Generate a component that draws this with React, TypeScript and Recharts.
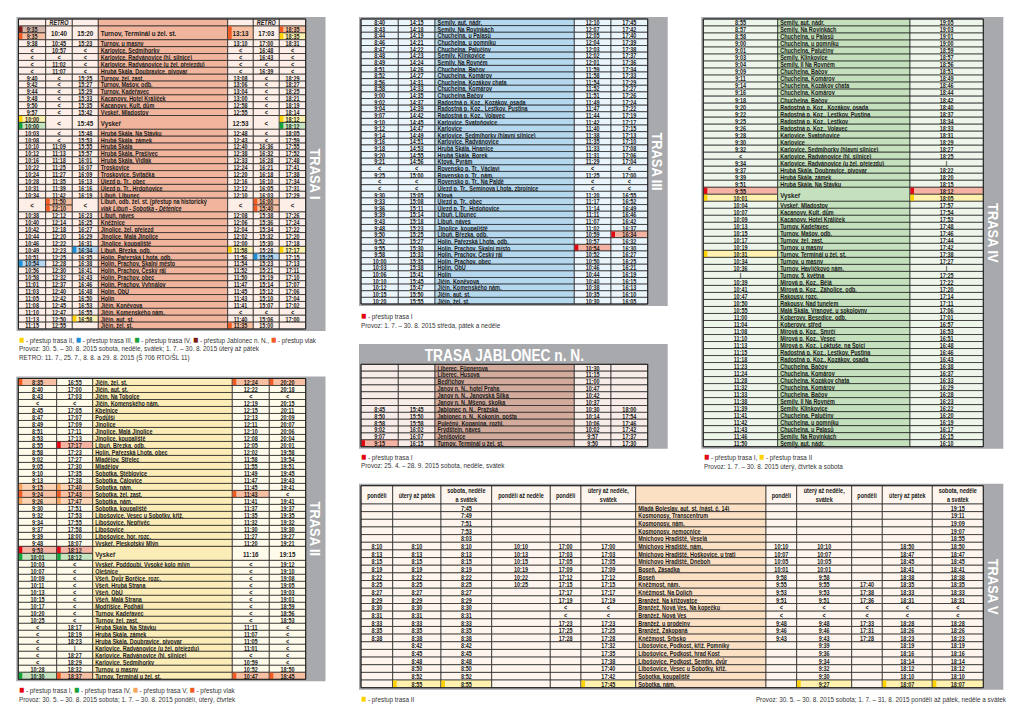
import React from 'react';
import { Surface, Layer, Rectangle, Text } from 'recharts';

const FONT = "'Liberation Sans', Arial, sans-serif";

// transfer markers: 1-5 = trasa I..V, J = Jablonec n. N., V = vlak
const markColors: Record<string, string> = {
  '1': '#e30613', '2': '#ffd200', '3': '#1b8ed6', '4': '#17a23b', '5': '#f6a55f', J: '#7b1d16', V: '#f15a22'
};
const markTints: Record<string, string> = {
  '1': '#f5b4a3', '2': '#fff2b0', '3': '#b5d7f0', '4': '#c6e4c0', '5': '#fcd5b6', J: '#d3b4a9', V: '#f8c0a3'
};

// ---------- TRASA I ----------
const trasa1Head = ['', 'RETRO', '', '', '', 'RETRO', ''];
const trasa1Stops = [
  'Turnov, Terminál u žel. st.', 'Turnov, u masny', 'Karlovice, Sedmihorky', 'Karlovice, Radvánovice (hl. silnice)',
  'Karlovice, Radvánovice (u žel. přejezdu)', 'Hrubá Skála, Doubravice, pivovar', 'Turnov, žel. zast.', 'Turnov, Mašov, odb.',
  'Turnov, Kadeřavec', 'Kacanovy, Hotel Králíček', 'Kacanovy, Kult. dům', 'Vyskeř, Mladostov', 'Vyskeř',
  'Hrubá Skála, Na Stávku', 'Hrubá Skála, zámek', 'Hrubá Skála', 'Hrubá Skála, Prašivec', 'Hrubá Skála, Vidlák',
  'Troskovice', 'Troskovice, Svitačka', 'Újezd p. Tr., obec', 'Újezd p. Tr., Hrdoňovice', 'Libuň, Libunec',
  'Libuň, odb. žel. st. (přestup na historický\nvlak Libuň - Sobotka - Dětenice', 'Libuň, náves', 'Kněžnice',
  'Jinolice, žel. přejezd', 'Jinolice, Malá Jinolice', 'Jinolice, koupaliště', 'Libuň, Březka, odb.',
  'Holín, Pařezská Lhota, odb.', 'Holín, Prachov, Skalní město', 'Holín, Prachov, Český ráj', 'Holín, Prachov, obec',
  'Holín, Prachov, Vyhnálov', 'Holín, ObÚ', 'Holín', 'Jičín, Koněvova', 'Jičín, Komenského nám.', 'Jičín, aut. st.', 'Jičín, žel. st.'
];
const trasa1Times = [
  ['9:35#J/9:35#V', '10:40', '15:20', '13:13#V', '17:03', '18:35#V/18:35#2'],
  ['9:38', '10:45', '15:23', '13:10', '17:00', '18:31'],
  ['<', '10:57', '<', '<', '16:48', '<'],
  ['<', '<', '<', '<', '16:43', '<'],
  ['<', '11:02', '<', '<', '<', '<'],
  ['<', '11:07', '<', '<', '16:39', '<'],
  ['9:40', '<', '15:25', '13:08', '<', '18:29'],
  ['9:42', '<', '15:27', '13:06', '<', '18:27'],
  ['9:44', '<', '15:29', '13:04', '<', '18:25'],
  ['9:48', '<', '15:33', '13:00', '<', '18:21'],
  ['9:50', '<', '15:35', '12:58', '<', '18:19'],
  ['9:57', '<', '15:42', '12:55', '<', '18:14'],
  ['10:00#2/10:00#4', '<', '15:45', '12:53', '<', '18:12#2/18:12#4'],
  ['10:03', '<', '15:48', '12:48', '<', '18:05'],
  ['10:08', '<', '15:53', '12:43', '<', '17:59'],
  ['10:10', '11:09', '15:55', '12:40', '16:36', '17:55'],
  ['10:12', '11:13', '15:57', '12:38', '16:32', '17:52'],
  ['10:16', '11:18', '16:01', '12:33', '16:28', '17:48'],
  ['10:22', '11:25', '16:07', '12:24', '16:21', '17:41'],
  ['10:24', '11:27', '16:09', '12:20', '16:18', '17:38'],
  ['10:28', '11:35', '16:13', '12:16', '16:10', '17:34'],
  ['10:31', '11:39', '16:16', '12:12', '16:05', '17:31'],
  ['10:34', '11:42', '16:19', '12:10', '16:03', '17:29'],
  ['<', '11:50#V/12:10#V', '<', '<', '16:00#V/15:40#V', '<'],
  ['10:38', '12:12', '16:23', '12:08', '15:38', '17:26'],
  ['10:40', '12:14', '16:25', '12:06', '15:36', '17:24'],
  ['10:42', '12:18', '16:27', '12:04', '15:34', '17:22'],
  ['10:44', '12:20', '16:29', '12:02', '15:32', '17:20'],
  ['10:46', '12:22', '16:31', '12:00', '15:30', '17:18'],
  ['10:49', '12:23', '16:34#3', '11:58#2', '15:28', '17:17#2'],
  ['10:51', '12:25', '16:35', '11:56', '15:25#3', '17:15'],
  ['10:54#3', '12:28', '16:38', '11:54', '15:23', '17:13'],
  ['10:56', '12:30', '16:41', '11:52', '15:21', '17:11'],
  ['10:58', '12:32', '16:43', '11:50', '15:19', '17:10'],
  ['11:01', '12:37', '16:46', '11:47', '15:14', '17:07'],
  ['11:03', '12:40', '16:48', '11:45', '15:12', '17:06'],
  ['11:05', '12:42', '16:50', '11:43', '15:10', '17:04'],
  ['11:08', '12:45', '16:53', '11:41', '15:07', '17:02'],
  ['11:10', '12:47', '16:55', '<', '<', '<'],
  ['11:13', '12:50', '16:58#2', '11:40', '15:06', '17:00'],
  ['11:15', '12:55', '', '11:35#V', '15:00', '']
];
const trasa1Legend = [['2', 'přestup trasa II,'], ['3', 'přestup trasa III,'], ['4', 'přestup trasa IV,'], ['J', 'přestup Jablonec n. N.,'], ['V', 'přestup vlak']];
const trasa1Notes = [
  'Provoz: 30. 5. – 30. 8. 2015 sobota, neděle, svátek; 1. 7. – 30. 8. 2015 úterý až pátek',
  'RETRO: 11. 7., 25. 7., 8. 8. a 29. 8. 2015 (Š 706 RTO/ŠL 11)'
];

// ---------- TRASA II ----------
const trasa2Stops = [
  'Jičín, žel. st.', 'Jičín, aut. st.', 'Jičín, Na Tobolce', 'Jičín, Komenského nám.', 'Kbelnice', 'Podůlší', 'Jinolice',
  'Jinolice, Malá Jinolice', 'Jinolice, koupaliště', 'Libuň, Březka, odb.', 'Holín, Pařezská Lhota, obec', 'Mladějov, Střelec',
  'Mladějov', 'Sobotka, Stéblovice', 'Sobotka, Čálovice', 'Sobotka, nám.', 'Sobotka, žel. zast.', 'Sobotka, nám.',
  'Sobotka, koupaliště', 'Libošovice, Vesec u Sobotky, křiž.', 'Libošovice, Nepřívěc', 'Libošovice', 'Libošovice, hor. rozc.',
  'Vyskeř, Pleskotský Mlýn', 'Vyskeř', 'Vyskeř, Poddoubí, Vysoké kolo mlýn', 'Olešnice', 'Všeň, Dvůr Borčice, rozc.',
  'Všeň, Hrubá Strana', 'Všeň, ObÚ', 'Všeň, Malá Strana', 'Modřišice, Podháji', 'Turnov, Kadeřavec', 'Turnov, žel. zast.',
  'Hrubá Skála, Na Stávku', 'Hrubá Skála, zámek', 'Hrubá Skála, Doubravice, pivovar', 'Karlovice, Radvánovice (u žel. přejezdu)',
  'Karlovice, Radvánovice (hl. silnice)', 'Karlovice, Sedmihorky', 'Turnov, u masny', 'Turnov, Terminál u žel. st.'
];
const trasa2Times = [
  ['8:35#V', '16:55', '12:24#V', '20:20#V'], ['8:40', '17:00', '12:22', '20:18'], ['8:43', '17:03', '<', '<'],
  ['<', '<', '12:19', '20:15'], ['8:45', '17:05', '12:15', '20:11'], ['8:47', '17:07', '12:13', '20:09'],
  ['8:49', '17:09', '12:11', '20:07'], ['8:51', '17:11', '12:10', '20:06'], ['8:53', '17:13', '12:08', '20:04'],
  ['8:55', '17:17#1', '12:05', '20:01'], ['8:58', '17:23', '12:02', '19:58'], ['9:02', '17:27', '11:58', '19:54'],
  ['9:05', '17:30', '11:55', '19:51'], ['9:10', '17:35', '11:49', '19:45'], ['9:13', '17:38', '11:47', '19:43'],
  ['9:15#5', '17:40#5', '11:45', '19:41'], ['9:24#V', '17:43#V', '11:43#V', '<'], ['9:26#5', '17:47#5', '11:41', '19:41'],
  ['9:30', '17:51', '11:37', '19:37'], ['9:32', '17:53', '11:35', '19:35'], ['9:34', '17:55', '11:32', '19:32'],
  ['9:37', '17:58', '11:30', '19:30'], ['9:39', '18:00', '11:27', '19:27'], ['9:48', '18:07', '11:20', '19:21'],
  ['9:53#1/10:01#4', '18:12#1/18:12#4', '11:16', '19:15'], ['10:03', '<', '<', '19:12'], ['10:07', '<', '<', '19:10'],
  ['10:09', '<', '<', '19:08'], ['10:11', '<', '<', '19:05'], ['10:13', '<', '<', '19:03'], ['10:15', '<', '<', '19:01'],
  ['10:17', '<', '<', '18:59'], ['10:20', '<', '<', '18:56'], ['10:25', '<', '<', '18:53'], ['<', '18:17', '11:11', '<'],
  ['<', '18:19', '11:07', '<'], ['<', '18:23', '11:05', '<'], ['<', '|', '11:01', '<'], ['<', '18:27', '<', '<'],
  ['<', '18:29', '10:59', '<'], ['10:28', '18:32', '10:52', '18:50'], ['10:30#4', '18:37#V', '10:47#V', '18:45#V']
];
const trasa2Legend = [['1', 'přestup trasa I,'], ['4', 'přestup trasa IV,'], ['5', 'přestup trasa V,'], ['V', 'přestup vlak']];
const trasa2Notes = ['Provoz: 30. 5. – 30. 8. 2015 sobota; 1. 7. – 30. 8. 2015 pondělí, úterý, čtvrtek'];

// ---------- TRASA III ----------
const trasa3Stops = [
  'Semily, aut. nádr.', 'Semily, Na Rovinkách', 'Chuchelna, u Palasů', 'Chuchelna, u pomníku', 'Chuchelna, Palučiny',
  'Semily, Klinkovice', 'Semily, Na Rovném', 'Chuchelna, Bačov', 'Chuchelna, Komárov', 'Chuchelna, Kozákov chata',
  'Chuchelna, Komárov', 'Chuchelna,Bačov', 'Radostná p. Koz., Kozákov, osada', 'Radostná p. Koz., Lestkov, Pustina',
  'Radostná p. Koz., Volavec', 'Karlovice, Svatoňovice', 'Karlovice', 'Karlovice, Sedmihorky (hlavní silnice)',
  'Karlovice, Radvánovice', 'Hrubá Skála, Hnanice', 'Hrubá Skála, Borek', 'Ktová, Pyrám', 'Rovensko p. Tr., Václaví',
  'Rovensko p. Tr., nám.', 'Rovensko p. Tr., Na Paldě', 'Újezd p. Tr., Semínova Lhota, zbrojnice', 'Ktová',
  'Újezd p. Tr., obec', 'Újezd p. Tr., Hrdoňovice', 'Libuň, Libunec', 'Libuň, náves', 'Jinolice, koupaliště',
  'Libuň, Březka, odb.', 'Holín, Pařezská Lhota, odb.', 'Holín, Prachov, Skalní místo', 'Holín, Prachov, Český ráj',
  'Holín, Prachov, obec', 'Holín, ObÚ', 'Holín', 'Jičín, Koněvova', 'Jičín, Komenského nám.', 'Jičín, aut. st.', 'Jičín, žel. st.'
];
const trasa3Times = [
  ['8:40', '14:15', '12:10', '17:45'], ['8:43', '14:18', '12:07', '17:42'], ['8:44', '14:19', '12:05', '17:40'],
  ['8:46', '14:21', '12:04', '17:39'], ['8:47', '14:22', '12:03', '17:38'], ['8:48', '14:23', '12:02', '17:37'],
  ['8:49', '14:24', '12:01', '17:36'], ['8:51', '14:26', '11:59', '17:34'], ['8:52', '14:27', '11:58', '17:33'],
  ['8:56', '14:31', '11:54', '17:29'], ['8:58', '14:33', '11:52', '17:27'], ['9:00', '14:35', '11:51', '17:26'],
  ['9:02', '14:37', '11:49', '17:24'], ['9:04', '14:39', '11:47', '17:22'], ['9:07', '14:42', '11:44', '17:19'],
  ['9:10', '14:45', '11:42', '17:17'], ['9:12', '14:47', '11:40', '17:15'], ['9:14', '14:49', '11:38', '17:13'],
  ['9:16', '14:51', '11:35', '17:10'], ['9:18', '14:53', '11:33', '17:08'], ['9:20', '14:55', '11:31', '17:06'],
  ['9:21', '14:56', '11:29', '17:04'], ['<', '<', '<', '<'], ['9:25', '15:00', '11:25', '17:00'], ['<', '<', '<', '<'],
  ['<', '<', '<', '<'], ['9:30', '15:05', '11:20', '16:55'], ['9:33', '15:08', '11:17', '16:52'],
  ['9:36', '15:11', '11:14', '16:49'], ['9:39', '15:14', '11:11', '16:46'], ['9:43', '15:18', '11:07', '16:42'],
  ['9:48', '15:23', '11:02', '16:37'], ['9:50', '15:25', '10:59', '16:34#1'], ['9:52', '15:27', '10:57', '16:32'],
  ['9:55', '15:30', '10:54#1', '16:30'], ['9:58', '15:33', '10:52', '16:27'], ['10:00', '15:35', '10:50', '16:25'],
  ['10:03', '15:38', '10:46', '16:21'], ['10:06', '15:41', '10:44', '16:19'], ['10:10', '15:45', '10:40', '16:15'],
  ['10:12', '15:47', '10:38', '16:13'], ['10:15', '15:50', '10:35', '16:10'], ['10:20', '15:55', '10:30', '16:05']
];
const trasa3Legend = [['1', 'přestup trasa I']];
const trasa3Notes = ['Provoz: 1. 7. – 30. 8. 2015 středa, pátek a neděle'];

// ---------- TRASA JABLONEC n. N. ----------
const jablonecStops = [
  'Liberec, Fügnerova', 'Liberec, Husova', 'Bedřichov', 'Janov n. N., hotel Praha', 'Janov n. N., Janovská Silka',
  'Janov n. N.,Mšeno, školka', 'Jablonec n. N., Pražská', 'Jablonec n. N., Kokonín, pošta', 'Pulečný, Kopanina, rozhl.',
  'Frýdštejn, náves', 'Jenišovice', 'Turnov, Terminál u žel. st.'
];
const jablonecTimes = [
  ['', '', '11:30', ''], ['', '', '11:15', ''], ['', '', '11:00', ''], ['', '', '10:47', ''], ['', '', '10:42', ''],
  ['', '', '10:37', ''], ['8:45', '15:45', '10:30', '18:00'], ['8:50', '15:50', '10:14', '17:54'],
  ['8:58', '15:58', '10:06', '17:46'], ['9:02', '16:02', '10:02', '17:42'], ['9:07', '16:07', '9:57', '17:37'],
  ['9:15#1', '16:15', '9:50', '17:30']
];
const jablonecLegend = [['1', 'přestup trasa I']];
const jablonecNotes = ['Provoz: 25. 4. – 28. 9. 2015 sobota, neděle, svátek'];

// ---------- TRASA IV ----------
const trasa4Stops = [
  'Semily, aut. nádr.', 'Semily, Na Rovinkách', 'Chuchelna, u Palasů', 'Chuchelna, u pomníku', 'Chuchelna, Palučiny',
  'Semily, Klinkovice', 'Semily, Il Na Rovném', 'Chuchelna, Bačov', 'Chuchelna, Komárov', 'Chuchelna, Kozákov chata',
  'Chuchelna, Komárov', 'Chuchelna, Bačov', 'Radostná p. Koz., Kozákov, osada', 'Radostná p. Koz., Lestkov, Pustina',
  'Radostná p. Koz., Lestkov', 'Radostná p. Koz., Volavec', 'Karlovice, Svatoňovice', 'Karlovice',
  'Karlovice, Sedmihorky (hlavní silnice)', 'Karlovice, Radvánovice (hl. silnice)', 'Karlovice, Radvánovice (u žel. přejezdu)',
  'Hrubá Skála, Doubravice, pivovar', 'Hrubá Skála, zámek', 'Hrubá Skála, Na Stávku', 'Vyskeř', 'Vyskeř, Mladostov',
  'Kacanovy, Kult. dům', 'Kacanovy, Hotel Králíček', 'Turnov, Kadeřavec', 'Turnov, Mašov, odb.', 'Turnov, žel. zast.',
  'Turnov, u masny', 'Turnov, Terminál u žel. st.', 'Turnov, u masny', 'Turnov, Havlíčkovo nám.', 'Turnov, 5. května',
  'Mírová p. Koz., Bělá', 'Mírová p. Koz., Záholice, odb.', 'Rakousy, rozc.', 'Rakousy, Nad tunelem',
  'Malá Skála, Vranové, u sokolovny', 'Koberovy, Besedice, odb.', 'Koberovy, střed', 'Mírová p. Koz., Smrčí',
  'Mírová p. Koz., Vesec', 'Mírová p. Koz., Loktuše, na Špici', 'Radostná p. Koz., Lestkov, Pustina',
  'Radostná p. Koz., Kozákov, osada', 'Chuchelna, Bačov', 'Chuchelna, Komárov', 'Chuchelna, Kozákov chata',
  'Chuchelna, Komárov', 'Chuchelna, Bačov', 'Semily, Il Na Rovném', 'Semily, Klinkovice', 'Chuchelna, Palučiny',
  'Chuchelna, u pomníku', 'Chuchelna, u Palasů', 'Semily, Na Rovinkách', 'Semily, aut. nádr.'
];
const trasa4Times = [
  ['8:55', '19:05'], ['8:57', '19:03'], ['8:58', '19:01'], ['9:00', '19:00'], ['9:01', '18:59'], ['9:03', '18:57'],
  ['9:04', '18:56'], ['9:09', '18:51'], ['9:11', '18:49'], ['9:14', '18:46'], ['9:16', '18:44'], ['9:18', '18:42'],
  ['9:20', '18:40'], ['9:22', '18:37'], ['9:25', '18:34'], ['9:26', '18:33'], ['9:28', '18:31'], ['9:30', '18:29'],
  ['9:32', '18:27'], ['<', '18:25'], ['9:34', '|'], ['9:37', '18:22'], ['9:39', '18:20'], ['9:51', '18:15'],
  ['9:55#1/10:01#2', '18:12#1/18:05#2'], ['10:04', '17:57'], ['10:07', '17:54'], ['10:09', '17:52'], ['10:13', '17:48'],
  ['10:15', '17:46'], ['10:17', '17:44'], ['10:19', '17:42'], ['10:31#2', '17:38'], ['10:34', '17:27'], ['10:36', '|'],
  ['|', '17:25'], ['10:39', '17:22'], ['10:41', '17:20'], ['10:47', '17:14'], ['10:50', '17:11'], ['10:55', '17:06'],
  ['11:00', '17:01'], ['11:04', '16:57'], ['11:08', '16:53'], ['11:10', '16:51'], ['11:13', '16:48'], ['11:15', '16:46'],
  ['11:18', '16:43'], ['11:23', '16:38'], ['11:24', '16:37'], ['11:28', '16:33'], ['11:32', '16:29'], ['11:33', '16:28'],
  ['11:38', '16:23'], ['11:39', '16:22'], ['11:41', '16:20'], ['11:42', '16:19'], ['11:43', '16:17'], ['11:46', '16:15'],
  ['11:50', '16:10']
];
const trasa4Legend = [['1', 'přestup trasa I,'], ['2', 'přestup trasa II']];
const trasa4Notes = ['Provoz: 1. 7. – 30. 8. 2015 úterý, čtvrtek a sobota'];

// ---------- TRASA V ----------
const trasa5Head = [
  'pondělí', 'úterý až pátek', 'sobota, neděle\na svátek', 'pondělí až neděle', 'pondělí', 'úterý až neděle,\nsvátek', '',
  'pondělí', 'úterý až neděle,\nsvátek', 'pondělí', 'úterý až pátek', 'sobota, neděle\na svátek'
];
const trasa5Stops = [
  'Mladá Boleslav, aut. st. (nást. č. 14)', 'Kosmonosy, Transcentrum', 'Kosmonosy, nám.', 'Kosmonosy, nemocnice',
  'Mnichovo Hradiště, Veselá', 'Mnichovo Hradiště, nám.', 'Mnichovo Hradiště, Hoškovice, u trati', 'Mnichovo Hradiště, Dneboh',
  'Boseň, Zásadka', 'Boseň', 'Kněžmost, nám.', 'Kněžmost, Na Dolích', 'Branžež, Na křižovatce', 'Branžež, Nová Ves, Na kopečku',
  'Branžež, Nová Ves', 'Branžež, u prodejny', 'Branžež, Zakopaná', 'Kněžmost, Srbsko', 'Libošovice, Podkost, křiž. Pomníky',
  'Libošovice, Podkost, hrad Kost', 'Libošovice, Podkost, Semtín, dvůr', 'Libošovice, Vesec u Sobotky, křiž.',
  'Sobotka, koupaliště', 'Sobotka, nám.'
];
const trasa5There = [
  ['', '', '7:45', '', '', ''], ['', '', '7:49', '', '', ''], ['', '', '7:51', '', '', ''], ['', '', '7:53', '', '', ''],
  ['', '', '8:03', '', '', ''], ['8:10', '8:10', '8:10', '10:10', '17:00', '17:00'], ['8:13', '8:13', '8:13', '10:13', '17:03', '17:03'],
  ['8:15', '8:15', '8:15', '10:15', '17:05', '17:05'], ['8:19', '8:19', '8:19', '10:19', '17:09', '17:09'],
  ['8:22', '8:22', '8:22', '10:22', '17:12', '17:12'], ['8:25', '8:25', '8:25', '10:25', '17:15', '17:15'],
  ['8:27', '8:27', '8:27', '', '17:17', '17:17'], ['8:29', '8:29', '8:29', '', '17:19', '17:19'],
  ['8:30', '8:30', '8:30', '', '<', '<'], ['8:31', '8:31', '8:31', '', '<', '<'], ['8:33', '8:33', '8:33', '', '17:23', '17:23'],
  ['8:35', '8:35', '8:35', '', '17:25', '17:25'], ['8:38', '8:38', '8:38', '', '17:28', '17:28'],
  ['', '8:42', '8:42', '', '', '17:32'], ['', '8:45', '8:45', '', '', '17:35'], ['', '8:48', '8:48', '', '', '17:38'],
  ['', '8:50', '8:50', '', '', '17:40'], ['', '8:52', '8:52', '', '', '17:42'], ['', '8:55#2', '8:55#2', '', '', '17:45#2']
];
const trasa5Back = [
  ['', '', '', '', '19:15'], ['', '', '', '', '19:11'], ['', '', '', '', '19:09'], ['', '', '', '', '19:07'], ['', '', '', '', '18:55'],
  ['10:10', '10:10', '', '18:50', '18:50'], ['10:07', '10:07', '', '18:47', '18:47'], ['10:05', '10:05', '', '18:45', '18:45'],
  ['10:01', '10:01', '', '18:41', '18:41'], ['9:58', '9:58', '', '18:38', '18:38'], ['9:55', '9:55', '17:40', '18:35', '18:35'],
  ['9:53', '9:53', '17:38', '18:33', '18:33'], ['9:51', '9:51', '17:36', '18:31', '18:31'], ['<', '<', '<', '<', '<'],
  ['<', '<', '<', '<', '<'], ['9:48', '9:48', '17:33', '18:28', '18:28'], ['9:46', '9:46', '17:31', '18:26', '18:26'],
  ['9:43', '9:43', '17:28', '18:23', '18:23'], ['', '9:39', '', '18:19', '18:19'], ['', '9:36', '', '18:16', '18:16'],
  ['', '9:34', '', '18:14', '18:14'], ['', '9:32', '', '18:12', '18:12'], ['', '9:30', '', '18:10', '18:10'],
  ['', '9:27#2', '', '18:07#2', '18:07#2']
];
const trasa5Legend = [['2', 'přestup trasa II']];
const trasa5Note = 'Provoz: 30. 5. – 30. 8. 2015 sobota; 1. 7. – 31. 8. 2015 pondělí až pátek, neděle a svátek';

const themes = {
  I: { time: '#fdeee7', name: '#f1b59d' },
  II: { time: '#fffbeb', name: '#fcedb8' },
  III: { time: '#eaf4fb', name: '#b5d8ef' },
  J: { time: '#f8ece8', name: '#d2ab9d' },
  IV: { time: '#eef6eb', name: '#c4e0bc' },
  V: { time: '#fef6ee', name: '#fbe0c4' }
};
const GRAY = '#a7a9ac';
const LINE = '#1c1c1c';
const NARROW = 0.78;

// squeeze text horizontally around x (stands in for the condensed face of the original)
const Squeeze = ({ x, sx = NARROW, children }: { x: number; sx?: number; children: React.ReactNode }) => (
  <g transform={`translate(${x} 0) scale(${sx} 1) translate(${-x} 0)`}>{children}</g>
);

const merge = (stops: string[], times: string[][], nameCol: number) =>
  stops.map((s, i) => [...times[i].slice(0, nameCol), s, ...times[i].slice(nameCol)]);

const isDouble = (row: string[]) => row.some((c) => c.includes('/') || c.includes('\n'));

interface BlockProps {
  cols: number[];
  nameCol: number;
  top: number;
  bottom: number;
  headerH: number;
  header?: string[];
  rows: string[][];
  theme: { time: string; name: string };
  bar: number;
  label?: string;
  title?: string;
  titleTop?: number;
  fontSize?: number;
}

const TimetableBlock = ({ cols, nameCol, top, bottom, headerH, header, rows, theme, bar, label, title, titleTop, fontSize = 7 }: BlockProps) => {
  const units = rows.reduce((a, r) => a + (isDouble(r) ? 2 : 1), 0);
  const unit = (bottom - top - headerH) / units;
  const last = cols[cols.length - 1];
  const frameTop = titleTop ?? top - 2;
  const cells: React.ReactNode[] = [];

  if (header) {
    header.forEach((h, c) => {
      const x0 = cols[c];
      const w = cols[c + 1] - x0;
      cells.push(
        <Rectangle key={`h${c}`} x={x0} y={top} width={w} height={headerH} fill={c === nameCol ? theme.name : theme.time} stroke={LINE} strokeWidth={0.7} />
      );
      const lines = h.split('\n');
      lines.forEach((ln, li) => {
        cells.push(
          <Squeeze key={`ht${c}-${li}`} x={x0 + w / 2}>
            <Text x={x0 + w / 2} y={top + (headerH * (li + 0.5)) / lines.length + 0.3} textAnchor="middle" verticalAnchor="middle"
              fontSize={fontSize} fontFamily={FONT} fontWeight={700} fontStyle={ln === 'RETRO' ? 'italic' : 'normal'} fill="#1a1a1a">
              {ln}
            </Text>
          </Squeeze>
        );
      });
    });
  }

  let y = top + headerH;
  rows.forEach((row, r) => {
    const dbl = isDouble(row);
    const h = (dbl ? 2 : 1) * unit;
    row.forEach((cell, c) => {
      const x0 = cols[c];
      const w = cols[c + 1] - x0;
      if (c === nameCol) {
        cells.push(<Rectangle key={`n${r}`} x={x0} y={y} width={w} height={h} fill={theme.name} stroke={LINE} strokeWidth={0.7} />);
        const lines = cell.split('\n');
        const fs = dbl && lines.length === 1 ? fontSize + 1 : fontSize;
        lines.forEach((ln, li) => {
          cells.push(
            <Squeeze key={`nt${r}-${li}`} x={x0 + 2.5}>
              <Text x={x0 + 2.5} y={y + (h * (li + 0.5)) / lines.length + 0.4} verticalAnchor="middle"
                fontSize={fs} fontFamily={FONT} fontWeight={700} fontStyle={li > 0 ? 'italic' : 'normal'} fill="#1a1a1a">
                {ln}
              </Text>
            </Squeeze>
          );
        });
        return;
      }
      const parts = cell.split('/');
      const sh = h / parts.length;
      const fs = dbl && parts.length === 1 ? fontSize + 1 : fontSize;
      parts.forEach((p, pi) => {
        const [val, code] = p.split('#');
        const sy = y + pi * sh;
        cells.push(
          <Rectangle key={`c${r}-${c}-${pi}`} x={x0} y={sy} width={w} height={sh} fill={code ? markTints[code] : theme.time} stroke={LINE} strokeWidth={0.7} />
        );
        if (code) {
          cells.push(<Rectangle key={`m${r}-${c}-${pi}`} x={x0 + 0.4} y={sy + 0.4} width={3.6} height={sh - 0.8} fill={markColors[code]} />);
        }
        if (val) {
          cells.push(
            <Squeeze key={`t${r}-${c}-${pi}`} x={x0 + w / 2}>
              <Text x={x0 + w / 2} y={sy + sh / 2 + 0.4} textAnchor="middle" verticalAnchor="middle"
                fontSize={fs} fontFamily={FONT} fontWeight={700} fill="#1a1a1a">
                {val}
              </Text>
            </Squeeze>
          );
        }
      });
    });
    y += h;
  });

  const lx = (last + bar) / 2;
  const ly = (top + bottom) / 2;
  return (
    <Layer>
      <Rectangle x={cols[0] - 2} y={frameTop} width={bar - cols[0] + 2} height={bottom + 2 - frameTop} fill={GRAY} />
      {title && (
        <Squeeze x={(cols[0] + last) / 2} sx={0.83}>
          <Text x={(cols[0] + last) / 2} y={(frameTop + top) / 2 + 0.5} textAnchor="middle" verticalAnchor="middle" fontSize={16.5}
            fontFamily={FONT} fontWeight={700} fill="#ffffff">
            {title}
          </Text>
        </Squeeze>
      )}
      {label && (
        <g transform={`translate(${lx} ${ly}) scale(1 0.86) translate(${-lx} ${-ly})`}>
          <Text x={lx} y={ly} angle={90} textAnchor="middle" verticalAnchor="middle" fontSize={15}
            fontFamily={FONT} fontWeight={700} fill="#ffffff">
            {label}
          </Text>
        </g>
      )}
      {cells}
      <Rectangle x={cols[0]} y={top} width={last - cols[0]} height={bottom - top} fill="none" stroke={LINE} strokeWidth={0.9} />
    </Layer>
  );
};

const Legend = ({ x, y, items, notes, anchor = 'start' }: { x: number; y: number; items?: string[][]; notes?: string[]; anchor?: string }) => (
  <Squeeze x={x} sx={0.86}>
    <g fontFamily={FONT} fontSize={7.4} fill="#333333">
      {items && (
        <text x={x} y={y + 2.6}>
          {items.map(([code, t], i) => (
            <React.Fragment key={i}>
              <tspan fill={markColors[code]} fontSize={10}>■</tspan>
              <tspan> - {t} </tspan>
            </React.Fragment>
          ))}
        </text>
      )}
      {(notes || []).map((n, i) => (
        <text key={i} x={x} y={y + 2.6 + (items ? 8.5 : 0) + i * 8.5} textAnchor={anchor as any}>
          {n}
        </text>
      ))}
    </g>
  </Squeeze>
);

export default function App() {
  return (
    <div style={{ position: 'absolute', left: 0, top: 0, width: 1020, height: 718, background: '#ffffff' }}>
      <Surface width={1020} height={718}>
        <TimetableBlock cols={[18.5, 45.7, 72.3, 98.3, 227.7, 253.3, 279.3, 305.7]} nameCol={3} top={19} bottom={329} headerH={7}
          header={trasa1Head} rows={merge(trasa1Stops, trasa1Times, 3)} theme={themes.I} bar={325.5} label="TRASA I" />
        <Legend x={19} y={340} items={trasa1Legend} notes={trasa1Notes} />

        <TimetableBlock cols={[18.3, 56.7, 92.7, 232.3, 269.3, 305.7]} nameCol={2} top={378.5} bottom={679.3} headerH={0}
          rows={merge(trasa2Stops, trasa2Times, 2)} theme={themes.II} bar={325.5} label="TRASA II" />
        <Legend x={19} y={690.7} items={trasa2Legend} notes={trasa2Notes} />

        <TimetableBlock cols={[361, 398.3, 435, 574.3, 611, 647.7]} nameCol={2} top={19} bottom={304} headerH={0}
          rows={merge(trasa3Stops, trasa3Times, 2)} theme={themes.III} bar={667.7} label="TRASA III" />
        <Legend x={361} y={316.7} items={trasa3Legend} notes={trasa3Notes} />

        <TimetableBlock cols={[361, 398.3, 435, 574.3, 611, 647.7]} nameCol={2} top={364.3} bottom={446.7} headerH={0}
          rows={merge(jablonecStops, jablonecTimes, 2)} theme={themes.J} bar={667.7} title="TRASA JABLONEC n. N." titleTop={344} />
        <Legend x={361} y={457} items={jablonecLegend} notes={jablonecNotes} />

        <TimetableBlock cols={[703.3, 777.7, 910, 983.3]} nameCol={1} top={19} bottom={446.7} headerH={0}
          rows={merge(trasa4Stops, trasa4Times, 1)} theme={themes.IV} bar={1003.3} label="TRASA IV" />
        <Legend x={704} y={457.7} items={trasa4Legend} notes={trasa4Notes} />

        <TimetableBlock cols={[361, 392.7, 441, 491.7, 550.3, 581, 635.7, 766, 796.7, 851.7, 882.3, 932.3, 983.3]} nameCol={6}
          top={485.7} bottom={687.7} headerH={18.3} header={trasa5Head}
          rows={trasa5Stops.map((s, i) => [...trasa5There[i], s, ...trasa5Back[i]])} theme={themes.V} bar={1003.3} label="TRASA V" />
        <Legend x={361} y={699} items={trasa5Legend} />
        <Legend x={1006} y={699} notes={[trasa5Note]} anchor="end" />
      </Surface>
    </div>
  );
}
